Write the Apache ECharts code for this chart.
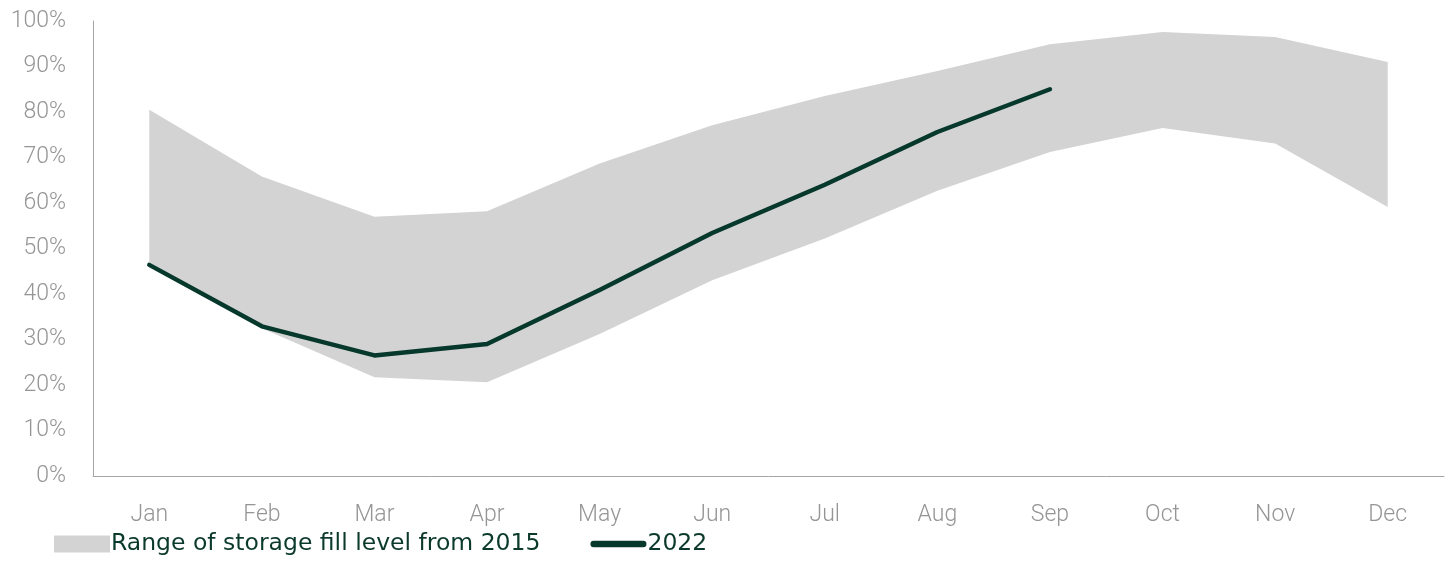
<!DOCTYPE html>
<html>
<head>
<meta charset="utf-8">
<script src="https://cdn.jsdelivr.net/npm/echarts@6/dist/echarts.min.js"></script>
<style>
  html, body { margin: 0; padding: 0; background: #fff; }
  #chart { width: 1448px; height: 584px; }
</style>
</head>
<body>
<div id="chart"></div>
<script>
var months = ['Jan', 'Feb', 'Mar', 'Apr', 'May', 'Jun', 'Jul', 'Aug', 'Sep', 'Oct', 'Nov', 'Dec'];
var rangeLow = [47.0, 32.5, 21.7, 20.6, 31.2, 43.0, 52.2, 62.7, 71.2, 76.5, 73.1, 59.1];
var rangeHigh = [80.5, 65.8, 57.0, 58.2, 68.7, 77.1, 83.5, 89.0, 94.9, 97.6, 96.5, 91.0];
var fill2022 = [46.4, 32.9, 26.5, 29.0, 40.9, 53.4, 64.0, 75.6, 85.0];

var rangeName = 'Range of storage fill level from 2015';
var rangeSpan = rangeHigh.map(function (v, i) { return +(v - rangeLow[i]).toFixed(1); });

var myChart = echarts.init(document.getElementById('chart'));
var option = {
    animation: false,
    textStyle: { fontFamily: 'Roboto' },
    grid: {
        left: 93,
        right: 4,
        top: 21,
        bottom: 108,
        containLabel: false
    },
    legend: {
        left: 49,
        top: 527,
        itemWidth: 56,
        itemHeight: 17,
        itemGap: 50,
        textStyle: { color: '#0b3a2c', fontFamily: 'DejaVu Sans', fontSize: 23.5, padding: [0, 0, 0, -4] },
        data: [
            { name: rangeName, icon: 'rect', itemStyle: { color: '#d3d3d3' } },
            { name: '2022', icon: 'path://M3,0 L49,0 A3,3 0 0 1 49,6 L3,6 A3,3 0 0 1 3,0 Z' }
        ]
    },
    xAxis: {
        type: 'category',
        data: months,
        boundaryGap: true,
        axisLine: { lineStyle: { color: '#a6a6a6', width: 1 } },
        axisTick: { show: false },
        axisLabel: { color: '#959595', fontSize: 23, fontWeight: 300, margin: 28 },
        splitLine: { show: false }
    },
    yAxis: {
        type: 'value',
        min: 0,
        max: 100,
        interval: 10,
        axisLine: { show: true, lineStyle: { color: '#a6a6a6', width: 1 } },
        axisTick: { show: false },
        axisLabel: { color: '#959595', fontSize: 23, fontWeight: 300, margin: 27, formatter: '{value}%' },
        splitLine: { show: false }
    },
    series: [
        {
            name: 'low',
            type: 'line',
            stack: 'range',
            data: rangeLow,
            symbol: 'none',
            lineStyle: { opacity: 0 },
            silent: true
        },
        {
            name: rangeName,
            type: 'line',
            stack: 'range',
            data: rangeSpan,
            symbol: 'none',
            color: '#d3d3d3',
            lineStyle: { opacity: 0 },
            areaStyle: { color: '#d3d3d3', opacity: 1 }
        },
        {
            name: '2022',
            type: 'line',
            data: fill2022,
            symbol: 'none',
            color: '#06382b',
            lineStyle: { color: '#06382b', width: 4.5, cap: 'round', join: 'round' },
            z: 5
        }
    ]
};
myChart.setOption(option);
</script>
</body>
</html>
